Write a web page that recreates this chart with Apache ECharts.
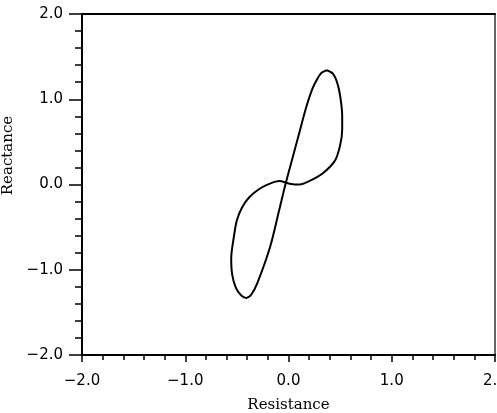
<!DOCTYPE html>
<html>
<head>
<meta charset="utf-8">
<script src="https://cdn.jsdelivr.net/npm/echarts@6/dist/echarts.min.js"></script>
<style>
  html, body { margin: 0; padding: 0; background: #fff; }
  #chart { width: 497px; height: 413px; }
</style>
</head>
<body>
<div id="chart"></div>
<script>
// impedance loop, starting at the top of the upper lobe
var resistance = [0.37, 0.43, 0.475, 0.505, 0.52, 0.52, 0.50, 0.45, 0.33, 0.20, 0.11, 0.01, -0.09, -0.18, -0.28,
  -0.38, -0.45, -0.50, -0.53, -0.555, -0.545, -0.51, -0.46, -0.41, -0.36, -0.30, -0.18, -0.09, -0.03,
  0.05, 0.11, 0.17, 0.23, 0.28, 0.32, 0.37];
var reactance = [1.34, 1.30, 1.18, 1.00, 0.80, 0.64, 0.46, 0.28, 0.13, 0.04, 0.00, 0.01, 0.04, 0.01, -0.05,
  -0.15, -0.27, -0.42, -0.62, -0.87, -1.06, -1.21, -1.30, -1.33, -1.29, -1.15, -0.74, -0.30, 0.00,
  0.36, 0.63, 0.90, 1.12, 1.24, 1.31, 1.34];
var tickLabels = ['\u22122.0', '\u22121.0', '0.0', '1.0', '2.0'];

var loop = resistance.map(function (r, i) { return [r, reactance[i]]; });

function fmt(v) {
  return tickLabels[Math.round(v) + 2];
}

var chart = echarts.init(document.getElementById('chart'));

var tickFont = { color: '#000', fontFamily: 'DejaVu Sans', fontSize: 15 };
var nameFont = { color: '#000', fontFamily: 'DejaVu Serif', fontSize: 15 };

chart.setOption({
  animation: false,
  grid: { left: 82, right: 2, top: 14, bottom: 58, containLabel: false, outerBoundsMode: 'none' },
  xAxis: [{
    type: 'value', min: -2, max: 2, interval: 1,
    name: 'Resistance', nameLocation: 'middle', nameGap: 43,
    nameTextStyle: nameFont,
    axisLine: { onZero: false, lineStyle: { color: '#000', width: 2 } },
    axisTick: { inside: false, length: 7, lineStyle: { color: '#000', width: 1.5 } },
    minorTick: { show: true, splitNumber: 5, length: 5, lineStyle: { color: '#000', width: 1.5 } },
    axisLabel: Object.assign({ margin: 19, formatter: fmt }, tickFont),
    splitLine: { show: false }
  }, {
    type: 'value', min: -2, max: 2, position: 'top',
    axisLine: { onZero: false, lineStyle: { color: '#000', width: 2 } },
    axisTick: { show: false }, axisLabel: { show: false }, splitLine: { show: false }
  }],
  yAxis: [{
    type: 'value', min: -2, max: 2, interval: 1,
    name: 'Reactance', nameLocation: 'middle', nameGap: 61,
    nameTextStyle: Object.assign({ padding: [0, 0, 0, 58] }, nameFont),
    axisLine: { onZero: false, lineStyle: { color: '#000', width: 2 } },
    axisTick: { inside: false, length: 13, lineStyle: { color: '#000', width: 1.5 } },
    minorTick: { show: true, splitNumber: 5, length: 7, lineStyle: { color: '#000', width: 1.5 } },
    axisLabel: Object.assign({ margin: 19, formatter: fmt }, tickFont),
    splitLine: { show: false }
  }, {
    type: 'value', min: -2, max: 2, position: 'right',
    axisLine: { onZero: false, lineStyle: { color: '#333', width: 1.5 } },
    axisTick: { show: false }, axisLabel: { show: false }, splitLine: { show: false }
  }],
  series: [{
    type: 'line',
    data: loop,
    smooth: 0.3,
    showSymbol: false,
    lineStyle: { color: '#000', width: 2 }
  }]
});
</script>
</body>
</html>
